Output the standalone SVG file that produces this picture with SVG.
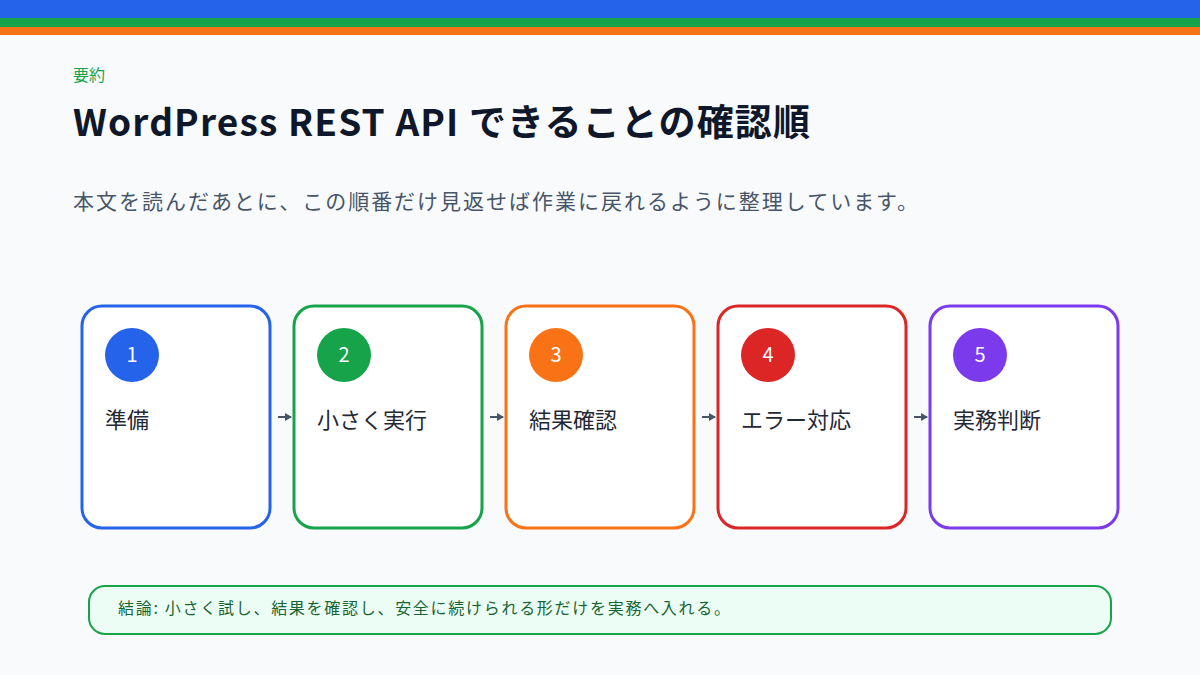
<svg xmlns="http://www.w3.org/2000/svg" width="1200" height="675" viewBox="0 0 1200 675">
<defs>
<style>
text{font-family:"Noto Sans CJK JP","Noto Sans",sans-serif}
.box{fill:#fff;stroke-width:3}
.num{fill:#fff;font-size:20px;text-anchor:middle}
.lbl{fill:#1f2937;font-size:22px}
.con{stroke:#475569;stroke-width:2;fill:none}
</style>
<marker id="ah" markerWidth="8" markerHeight="8" refX="6" refY="4" orient="auto" markerUnits="userSpaceOnUse"><path d="M0,0 L7,4 L0,8 Z" fill="#475569"/></marker>
</defs>
<rect width="1200" height="675" fill="#f8fafc"/>
<rect width="1200" height="18" fill="#2563eb"/>
<rect y="18" width="1200" height="9" fill="#16a34a"/>
<rect y="27" width="1200" height="8" fill="#f97316"/>
<text x="73" y="81" font-size="16" fill="#16a34a">要約</text>
<text x="73" y="136" font-size="37" font-weight="bold" fill="#0f172a" textLength="737" lengthAdjust="spacing">WordPress REST API できることの確認順</text>
<text x="73" y="209" font-size="21" fill="#475569" textLength="845" lengthAdjust="spacing">本文を読んだあとに、この順番だけ見返せば作業に戻れるように整理しています。</text>
<g id="connectors">
<line class="con" x1="278" y1="417" x2="291" y2="417" marker-end="url(#ah)"/>
<line class="con" x1="490" y1="417" x2="503" y2="417" marker-end="url(#ah)"/>
<line class="con" x1="702" y1="417" x2="715" y2="417" marker-end="url(#ah)"/>
<line class="con" x1="914" y1="417" x2="927" y2="417" marker-end="url(#ah)"/>
</g>
<g id="n1"><rect class="box" x="82" y="306" width="188" height="222" rx="20" stroke="#2563eb"/><circle cx="132" cy="355" r="27" fill="#2563eb"/><text class="num" x="132" y="362">1</text><text class="lbl" x="105" y="428">準備</text></g>
<g id="n2"><rect class="box" x="294" y="306" width="188" height="222" rx="20" stroke="#16a34a"/><circle cx="344" cy="355" r="27" fill="#16a34a"/><text class="num" x="344" y="362">2</text><text class="lbl" x="317" y="428">小さく実行</text></g>
<g id="n3"><rect class="box" x="506" y="306" width="188" height="222" rx="20" stroke="#f97316"/><circle cx="556" cy="355" r="27" fill="#f97316"/><text class="num" x="556" y="362">3</text><text class="lbl" x="529" y="428">結果確認</text></g>
<g id="n4"><rect class="box" x="718" y="306" width="188" height="222" rx="20" stroke="#dc2626"/><circle cx="768" cy="355" r="27" fill="#dc2626"/><text class="num" x="768" y="362">4</text><text class="lbl" x="741" y="428">エラー対応</text></g>
<g id="n5"><rect class="box" x="930" y="306" width="188" height="222" rx="20" stroke="#7c3aed"/><circle cx="980" cy="355" r="27" fill="#7c3aed"/><text class="num" x="980" y="362">5</text><text class="lbl" x="953" y="428">実務判断</text></g>
<g id="summary"><rect x="89" y="586" width="1022" height="48" rx="16" fill="#ecfdf5" stroke="#16a34a" stroke-width="2"/><text x="118" y="614" font-size="16" fill="#166534" textLength="612" lengthAdjust="spacing">結論: 小さく試し、結果を確認し、安全に続けられる形だけを実務へ入れる。</text></g>
</svg>
